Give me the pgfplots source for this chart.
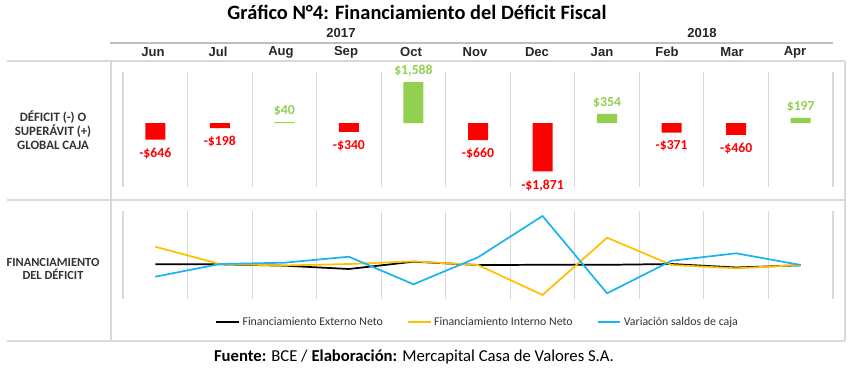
\documentclass[border=0pt]{standalone}
\usepackage{pgfplots}
\pgfplotsset{compat=1.18}
\usepackage{fontspec}
\setmainfont{Carlito}
\newfontfamily\arialfont{Liberation Sans}
\definecolor{gridgray}{HTML}{D9D9D9}
\definecolor{yeargray}{HTML}{BFBFBF}
\definecolor{barred}{HTML}{FF0000}
\definecolor{bargreen}{HTML}{92D050}
\definecolor{lineyellow}{HTML}{FFC000}
\definecolor{lineblue}{HTML}{1CB4EE}
\definecolor{labelgray}{HTML}{333333}
\definecolor{headgray}{HTML}{262626}

\pgfplotstableread{
x y l
0.5 -646 -\$646
1.5 -198 -\$198
3.5 -340 -\$340
5.5 -660 -\$660
6.5 -1871 -\$1,871
8.5 -371 -\$371
9.5 -460 -\$460
}\negdata
\pgfplotstableread{
x y l
2.5 40 \$40
4.5 1588 \$1,588
7.5 354 \$354
10.5 197 \$197
}\posdata

\begin{document}
\begin{tikzpicture}
\begin{scope}[x=0.75pt,y=-0.75pt]
\path[use as bounding box] (0,0) rectangle (854,370);
% frame lines
\draw[gridgray, line width=1.1pt] (7,61) -- (845,61);
\draw[gridgray, line width=1.1pt] (7,200) -- (845,200);
\draw[gridgray, line width=1.1pt] (7,341) -- (845,341);
\draw[gridgray, line width=1.1pt] (111,61) -- (111,341);
\draw[gridgray, line width=1.1pt] (845,61) -- (845,341);
\draw[yeargray, line width=1.5pt] (110,43) -- (833,43);
% title
\node[font=\bfseries\fontsize{15.3}{18}\selectfont] at (417,12.5) {Gráfico N°4: Financiamiento del Déficit Fiscal};
% years
\node[font=\arialfont\bfseries\fontsize{9.8}{11}\selectfont, text=headgray] at (341,33) {2017};
\node[font=\arialfont\bfseries\fontsize{9.8}{11}\selectfont, text=headgray] at (702,33) {2018};
% months
\foreach \m/\xx in {Jun/153,Jul/218,Aug/281,Sep/346,Oct/411,Nov/475,Dec/537,Jan/602,Feb/667,Mar/732,Apr/795}{
  \node[font=\arialfont\bfseries\fontsize{9.8}{11}\selectfont, text=headgray] at (\xx,52) {\m};
}
% left labels
\node[font=\bfseries\fontsize{9.6}{10.3}\selectfont, text=labelgray, align=center] at (53,130) {DÉFICIT (-) O\\SUPERÁVIT (+)\\GLOBAL CAJA};
\node[font=\bfseries\fontsize{9.3}{10.3}\selectfont, text=labelgray, align=center] at (53,269) {FINANCIAMIENTO\\DEL DÉFICIT};
% footer
\node[font=\fontsize{12.5}{15}\selectfont] at (414,357) {\textbf{Fuente:} BCE / \textbf{Elaboración:} Mercapital Casa de Valores S.A.};
\end{scope}

% top bar axis
\begin{axis}[
  at={(92.25pt,-140.25pt)}, anchor=south west,
  scale only axis, width=532.5pt, height=86.25pt,
  xmin=0, xmax=11, ymin=-2480, ymax=1980,
  axis line style={draw=none},
  xtick={0,...,11}, xticklabels={}, ytick=\empty,
  major tick length=0pt,
  xmajorgrids, grid style={gridgray, line width=0.8pt},
  clip=false,
]
\addplot[ybar, bar width=15pt, bar shift=0pt, fill=barred, draw=none,
  point meta=explicit symbolic, nodes near coords,
  nodes near coords style={text=barred, font=\bfseries\fontsize{10.3}{12}\selectfont, inner sep=4pt, anchor=north, yshift=-2pt}]
  table[x=x, y=y, meta=l] {\negdata};
\addplot[ybar, bar width=15pt, bar shift=0pt, fill=bargreen, draw=none,
  point meta=explicit symbolic, nodes near coords,
  nodes near coords style={text=bargreen, font=\bfseries\fontsize{10.3}{12}\selectfont, inner sep=4pt, anchor=south}]
  table[x=x, y=y, meta=l] {\posdata};
\end{axis}

% bottom line axis
\begin{axis}[
  at={(92.25pt,-224.25pt)}, anchor=south west,
  scale only axis, width=532.5pt, height=66pt,
  xmin=0, xmax=11, ymin=-1328, ymax=2060,
  axis line style={draw=none},
  xtick={0,...,11}, xticklabels={}, ytick=\empty,
  major tick length=0pt,
  xmajorgrids, grid style={gridgray, line width=0.8pt},
  clip=false,
  legend style={at={(0.5,-0.261)}, anchor=center, draw=none, fill=none,
    font=\fontsize{8.9}{10}\selectfont, text=labelgray,
    /tikz/every even column/.append style={column sep=16pt}},
  legend columns=3,
  legend image code/.code={\draw[#1] (0cm,0cm) -- (0.6cm,0cm);},
]
\addplot[black, line width=1.3pt] coordinates {
(0.5,8) (1.5,8) (2.5,-46) (3.5,-173) (4.5,108) (5.5,-19) (6.5,-12) (7.5,-12) (8.5,19) (9.5,-115) (10.5,-31)};
\addlegendentry{Financiamiento Externo Neto}
\addplot[lineyellow, line width=1.3pt] coordinates {
(0.5,685) (1.5,19) (2.5,-38) (3.5,19) (4.5,120) (5.5,-19) (6.5,-1174) (7.5,1032) (8.5,-19) (9.5,-146) (10.5,-19)};
\addlegendentry{Financiamiento Interno Neto}
\addplot[lineblue, line width=1.3pt] coordinates {
(0.5,-470) (1.5,19) (2.5,69) (3.5,300) (4.5,-762) (5.5,277) (6.5,1867) (7.5,-1109) (8.5,146) (9.5,431) (10.5,-19)};
\addlegendentry{Variación saldos de caja}
\end{axis}
\end{tikzpicture}
\end{document}
